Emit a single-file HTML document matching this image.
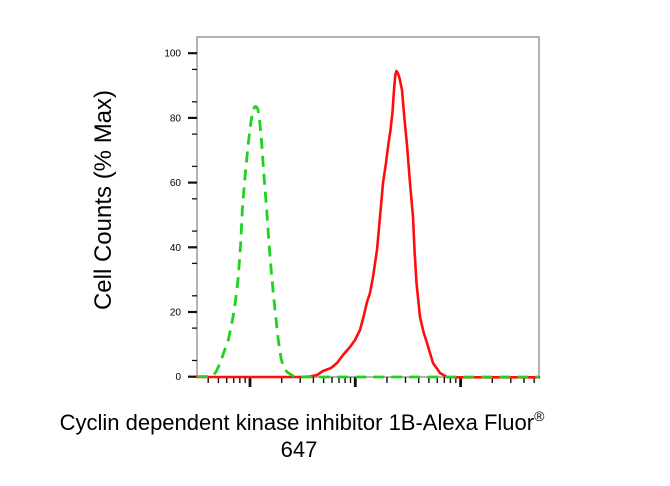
<!DOCTYPE html>
<html>
<head>
<meta charset="utf-8">
<style>
  html, body { margin: 0; padding: 0; background: #ffffff; }
  body { width: 670px; height: 486px; overflow: hidden; }
  svg { display: block; }
  text { font-family: "Liberation Sans", Arial, sans-serif; fill: #000; }
</style>
</head>
<body>
<svg width="670" height="486" viewBox="0 0 670 486" xmlns="http://www.w3.org/2000/svg">
  <rect x="0" y="0" width="670" height="486" fill="#ffffff"/>

  <!-- plot frame -->
  <rect x="197" y="37" width="342" height="340" fill="none" stroke="#9a9a9a" stroke-width="1.5"/>

  <!-- Y ticks -->
  <g stroke="#111" stroke-width="1.3">
    <line x1="192" y1="360.5" x2="197" y2="360.5"/>
    <line x1="192" y1="328.1" x2="197" y2="328.1"/>
    <line x1="192" y1="295.8" x2="197" y2="295.8"/>
    <line x1="192" y1="263.4" x2="197" y2="263.4"/>
    <line x1="192" y1="231.1" x2="197" y2="231.1"/>
    <line x1="192" y1="198.8" x2="197" y2="198.8"/>
    <line x1="192" y1="166.4" x2="197" y2="166.4"/>
    <line x1="192" y1="134.1" x2="197" y2="134.1"/>
    <line x1="192" y1="101.8" x2="197" y2="101.8"/>
    <line x1="192" y1="69.4" x2="197" y2="69.4"/>
  </g>
  <g stroke="#111" stroke-width="2.2">
    <line x1="188" y1="376.7" x2="197" y2="376.7"/>
    <line x1="188" y1="312.0" x2="197" y2="312.0"/>
    <line x1="188" y1="247.3" x2="197" y2="247.3"/>
    <line x1="188" y1="182.6" x2="197" y2="182.6"/>
    <line x1="188" y1="117.9" x2="197" y2="117.9"/>
    <line x1="188" y1="53.2" x2="197" y2="53.2"/>
  </g>
  <g font-size="10" text-anchor="end" fill="#111">
    <text x="181" y="380.2">0</text>
    <text x="181" y="315.5">20</text>
    <text x="181" y="250.8">40</text>
    <text x="181" y="186.1">60</text>
    <text x="181" y="121.4">80</text>
    <text x="181" y="56.7">100</text>
  </g>

  <!-- X ticks (log) -->
  <g stroke="#111" stroke-width="1.4">
    <!-- decade before 250 -->
    <line x1="208.2" y1="377" x2="208.2" y2="383"/>
    <line x1="218.4" y1="377" x2="218.4" y2="383"/>
    <line x1="226.7" y1="377" x2="226.7" y2="383"/>
    <line x1="233.7" y1="377" x2="233.7" y2="383"/>
    <line x1="239.8" y1="377" x2="239.8" y2="383"/>
    <line x1="245.2" y1="377" x2="245.2" y2="383"/>
    <!-- decade 250-355 -->
    <line x1="281.7" y1="377" x2="281.7" y2="383"/>
    <line x1="300.2" y1="377" x2="300.2" y2="383"/>
    <line x1="313.4" y1="377" x2="313.4" y2="383"/>
    <line x1="323.6" y1="377" x2="323.6" y2="383"/>
    <line x1="332.0" y1="377" x2="332.0" y2="383"/>
    <line x1="339.0" y1="377" x2="339.0" y2="383"/>
    <line x1="345.1" y1="377" x2="345.1" y2="383"/>
    <line x1="350.5" y1="377" x2="350.5" y2="383"/>
    <!-- decade 355-460 -->
    <line x1="387.0" y1="377" x2="387.0" y2="383"/>
    <line x1="405.5" y1="377" x2="405.5" y2="383"/>
    <line x1="418.7" y1="377" x2="418.7" y2="383"/>
    <line x1="428.9" y1="377" x2="428.9" y2="383"/>
    <line x1="437.3" y1="377" x2="437.3" y2="383"/>
    <line x1="444.3" y1="377" x2="444.3" y2="383"/>
    <line x1="450.4" y1="377" x2="450.4" y2="383"/>
    <line x1="455.8" y1="377" x2="455.8" y2="383"/>
    <!-- decade after 460 -->
    <line x1="492.3" y1="377" x2="492.3" y2="383"/>
    <line x1="510.8" y1="377" x2="510.8" y2="383"/>
    <line x1="524.0" y1="377" x2="524.0" y2="383"/>
    <line x1="534.2" y1="377" x2="534.2" y2="383"/>
  </g>
  <g stroke="#111" stroke-width="2.8">
    <line x1="250" y1="377" x2="250" y2="387"/>
    <line x1="355.3" y1="377" x2="355.3" y2="387"/>
    <line x1="460.6" y1="377" x2="460.6" y2="387"/>
  </g>

  <!-- red curve -->
  <polyline fill="none" stroke="#ff0d0d" stroke-width="2.6" stroke-linejoin="round" stroke-linecap="round"
    points="197,377 300,377 310,376.5 317,375 323,371 331,368 337,363 343,355 350,347 355,340 360,330 364,315 367,302 370,293 373,277 377,250 380,217 383,183 386,163 388,147 390.5,130 392.5,112 394,90 395.3,75 396.5,71 398,73.5 399.5,78 402,90 404.3,117 407,145 410,183 413,217 414.5,250 416.5,283 420,317 423.5,332 427,343 433,363 440,373 447,377 455,377.3 539,377.3"/>

  <!-- green dashed curve -->
  <polyline fill="none" stroke="#1ed21e" stroke-width="2.8" stroke-dasharray="11 7" stroke-linejoin="round"
    points="197,376.7 212,376.5 216,372 220,363.3 224,352 228.3,340 231.5,325 234.3,310 236.5,293 238.3,276.7 240.7,243.3 242.3,210 245,176.7 248.3,143.3 250.5,125 252.5,112 254.5,107 256,106.5 257.8,109 259.3,116.7 261.7,143.3 264,176.7 266.7,210 269,243.3 271.7,276.7 275,310 278.3,340 281,358 283.3,366.7 287,372 293.3,376 300,377 539,377"/>

  <!-- Y axis label -->
  <text x="0" y="0" font-size="24" text-anchor="middle" transform="translate(111,200) rotate(-90)">Cell Counts (% Max)</text>

  <!-- X axis label -->
  <text x="302" y="430" font-size="22" text-anchor="middle">Cyclin dependent kinase inhibitor 1B-Alexa Fluor<tspan font-size="14" dy="-9">®</tspan></text>
  <text x="299" y="457" font-size="22" text-anchor="middle">647</text>
</svg>
</body>
</html>
